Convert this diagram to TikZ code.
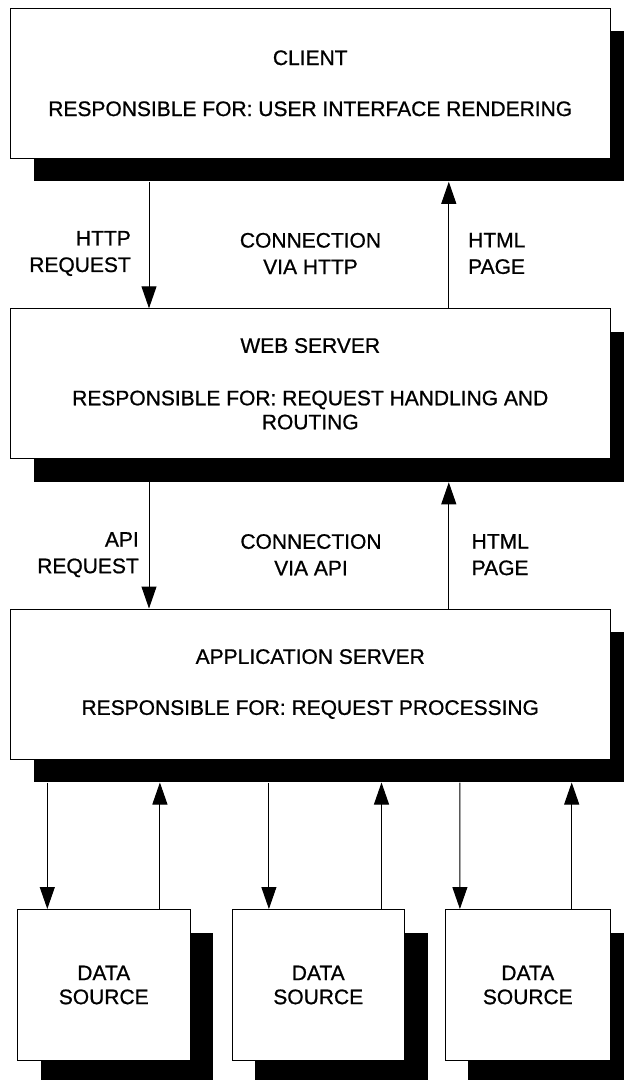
\documentclass[tikz,border=0pt]{standalone}
\usepackage{fontspec}
\setmainfont{Liberation Sans}[RawFeature={embolden=0.8}]
\usetikzlibrary{arrows.meta,shadows}
\tikzset{
  box/.style={draw, line width=1pt, fill=white, inner sep=0pt, align=center,
    font=\fontsize{21}{24}\selectfont,
    drop shadow={shadow xshift=23pt, shadow yshift=-23pt, opacity=1, fill=black}},
  lbl/.style={inner sep=0pt, font=\fontsize{21}{26.5}\selectfont},
  arr/.style={line width=1pt, -{Triangle[length=22pt,width=15pt]}}
}
\begin{document}
\begin{tikzpicture}[x=1pt,y=-1pt]
\useasboundingbox (0,0) rectangle (624,1080);
% main boxes
\node[box, minimum width=599.5pt, minimum height=150pt] (client) at (310.25,83.3)
  {CLIENT\\[27pt]RESPONSIBLE FOR: USER INTERFACE RENDERING};
\node[box, minimum width=599.5pt, minimum height=150pt] (web) at (310.25,383.8)
  {WEB SERVER\\[28.5pt]RESPONSIBLE FOR: REQUEST HANDLING AND\\ROUTING};
\node[box, minimum width=599.5pt, minimum height=150pt] (app) at (310.25,684)
  {APPLICATION SERVER\\[27pt]RESPONSIBLE FOR: REQUEST PROCESSING};
% data sources
\node[box, minimum width=172.5pt, minimum height=151pt] (ds1) at (103.75,985) {DATA\\SOURCE};
\node[box, minimum width=172.5pt, minimum height=151pt] (ds2) at (318.25,985) {DATA\\SOURCE};
\node[box, minimum width=165pt, minimum height=151pt] (ds3) at (527.8,985) {DATA\\SOURCE};
% labels
\node[lbl, anchor=east, align=right] (l1) at (131,253.5) {HTTP\\REQUEST};
\node[lbl, align=center] (c1) at (310.5,253.5) {CONNECTION\\VIA HTTP};
\node[lbl, anchor=west, align=left] (r1) at (468,253.5) {HTML\\PAGE};
\node[lbl, anchor=east, align=right] (l2) at (139,554.7) {API\\REQUEST};
\node[lbl, align=center] (c2) at (311,554.7) {CONNECTION\\VIA API};
\node[lbl, anchor=west, align=left] (r2) at (471.5,554.7) {HTML\\PAGE};
% connectors client <-> web
\draw[arr] ([xshift=139pt,yshift=-23pt]client.south west) -- ([xshift=139pt]web.north west);
\draw[arr] ([xshift=438.8pt]web.north west) -- ([xshift=438.8pt,yshift=-23pt]client.south west);
% connectors web <-> app
\draw[arr] ([xshift=139pt,yshift=-23pt]web.south west) -- ([xshift=139pt]app.north west);
\draw[arr] ([xshift=438.8pt]app.north west) -- ([xshift=438.8pt,yshift=-23pt]web.south west);
% connectors app <-> data sources
\draw[arr] ([xshift=37.3pt,yshift=-23pt]app.south west) -- ([xshift=30.3pt]ds1.north west);
\draw[arr] ([xshift=142.9pt]ds1.north west) -- ([xshift=149.9pt,yshift=-23pt]app.south west);
\draw[arr] ([xshift=258.9pt,yshift=-23pt]app.south west) -- ([xshift=37.4pt]ds2.north west);
\draw[arr] ([xshift=150pt]ds2.north west) -- ([xshift=371.5pt,yshift=-23pt]app.south west);
\draw[arr] ([xshift=449.9pt,yshift=-23pt]app.south west) -- ([xshift=15.1pt]ds3.north west);
\draw[arr] ([xshift=126.9pt]ds3.north west) -- ([xshift=561.7pt,yshift=-23pt]app.south west);
\end{tikzpicture}
\end{document}
